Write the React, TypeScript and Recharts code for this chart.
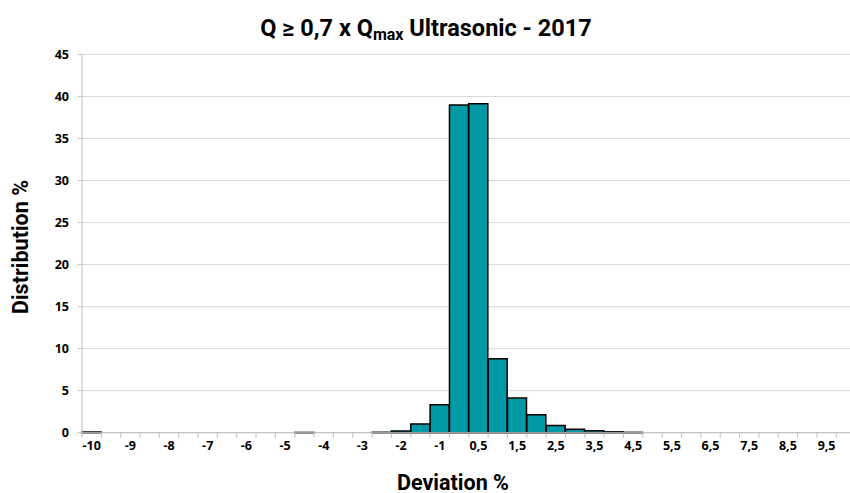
import { Bar, BarChart, CartesianGrid, XAxis, YAxis } from "recharts";

const categories = [
  "-10", "-9,5", "-9", "-8,5", "-8", "-7,5", "-7", "-6,5", "-6", "-5,5",
  "-5", "-4,5", "-4", "-3,5", "-3", "-2,5", "-2", "-1,5", "-1", "-0,5",
  "0,5", "1", "1,5", "2", "2,5", "3", "3,5", "4", "4,5", "5",
  "5,5", "6", "6,5", "7", "7,5", "8", "8,5", "9", "9,5", "10",
];

const distribution = [
  0.08, 0, 0, 0, 0, 0, 0, 0, 0, 0,
  0, 0.03, 0, 0, 0, 0.05, 0.2, 1.05, 3.33, 39.0,
  39.15, 8.8, 4.13, 2.14, 0.87, 0.4, 0.22, 0.1, 0.04, 0,
  0, 0, 0, 0, 0, 0, 0, 0, 0, 0,
];

const yTicks = [0, 5, 10, 15, 20, 25, 30, 35, 40, 45];

const data = categories.map((label, i) => ({ label, value: distribution[i] }));

const CHART_W = 860;
const CHART_H = 493;
const MARGIN = { top: 54.5, right: 4.4, left: 0, bottom: 30.3 };
const Y_AXIS_W = 82;
const BAND = (CHART_W - MARGIN.left - MARGIN.right - Y_AXIS_W) / categories.length;

const tickFont = { fontFamily: "'Open Sans', sans-serif", fontWeight: 700, fontSize: 12.5 };
const labelFont = { fontFamily: "Roboto, sans-serif", fontWeight: 700, color: "#000" };

function XTick(props: any) {
  const { x, y, payload, index } = props;
  return (
    <g>
      <line x1={x - BAND / 2} x2={x - BAND / 2} y1={y} y2={y + 5} stroke="#bfbfbf" />
      {index % 2 === 0 && (
        <text x={x} y={y + 17} textAnchor="middle" fill="#000" style={tickFont}>
          {payload.value}
        </text>
      )}
    </g>
  );
}

export default function App() {
  return (
    <div
      style={{
        position: "fixed",
        left: 0,
        top: 0,
        width: 850,
        height: CHART_H,
        overflow: "hidden",
        background: "#fff",
      }}
    >
      <BarChart
        width={CHART_W}
        height={CHART_H}
        data={data}
        margin={MARGIN}
        barCategoryGap={0}
      >
        <CartesianGrid vertical={false} stroke="#d9d9d9" />
        <XAxis
          dataKey="label"
          interval={0}
          tickSize={0}
          tickMargin={0}
          tick={<XTick />}
          axisLine={{ stroke: "#bfbfbf" }}
          height={30}
        />
        <YAxis
          domain={[0, 45]}
          ticks={yTicks}
          width={Y_AXIS_W}
          tickSize={4}
          tickMargin={9}
          tickLine={{ stroke: "#bfbfbf" }}
          axisLine={{ stroke: "#bfbfbf" }}
          tick={{ fill: "#000", ...tickFont }}
        />
        <Bar
          dataKey="value"
          fill="#0099a6"
          stroke="#000"
          strokeWidth={1.5}
          isAnimationActive={false}
        />
      </BarChart>
      <div
        style={{
          ...labelFont,
          position: "absolute",
          left: 0,
          width: 852,
          top: 14,
          textAlign: "center",
          fontSize: 23.5,
          lineHeight: "28px",
        }}
      >
        Q ≥ 0,7 x Q<sub style={{ fontSize: 16, verticalAlign: "-4px" }}>max</sub> Ultrasonic - 2017
      </div>
      <div
        style={{
          ...labelFont,
          position: "absolute",
          left: 20,
          top: 247,
          transform: "translate(-50%, -50%) rotate(-90deg)",
          whiteSpace: "nowrap",
          fontSize: 21.5,
        }}
      >
        Distribution %
      </div>
      <div
        style={{
          ...labelFont,
          position: "absolute",
          left: 453,
          top: 482,
          transform: "translate(-50%, -50%)",
          whiteSpace: "nowrap",
          fontSize: 21.5,
        }}
      >
        Deviation %
      </div>
    </div>
  );
}
